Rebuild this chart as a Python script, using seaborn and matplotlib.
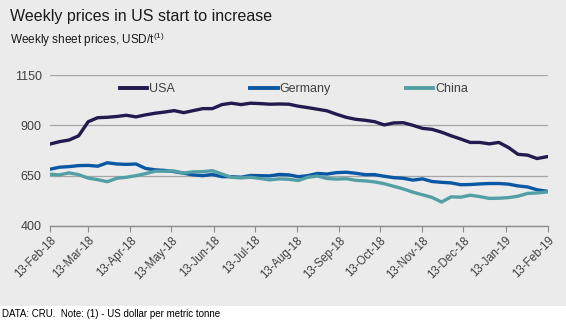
import matplotlib
matplotlib.use("Agg")
import matplotlib.pyplot as plt
import matplotlib.dates as mdates
from matplotlib.patches import Rectangle
import seaborn as sns
import pandas as pd
import numpy as np

# ---- data (weekly, 13-Feb-18 .. 12-Feb-19) ----
usa = [807, 819, 827, 848, 918, 938, 940, 944, 950, 942, 952, 960, 966, 973, 963,
       973, 983, 983, 1003, 1010, 1003, 1010, 1008, 1005, 1006, 1005, 995, 988, 980,
       972, 955, 940, 930, 925, 918, 902, 912, 913, 900, 885, 880, 866, 848, 832,
       815, 815, 808, 815, 790, 756, 752, 735, 744]
germany = [682, 692, 695, 700, 701, 697, 714, 708, 706, 708, 686, 679, 676, 670, 662,
           654, 650, 656, 645, 645, 642, 651, 650, 649, 656, 654, 645, 650, 661, 658,
           665, 667, 662, 655, 655, 647, 640, 637, 628, 634, 621, 617, 614, 605, 606,
           609, 611, 611, 608, 599, 594, 580, 573]
china = [657, 654, 664, 655, 638, 630, 620, 637, 642, 650, 660, 672, 672, 673, 663,
         669, 670, 675, 658, 642, 639, 642, 636, 629, 634, 632, 626, 642, 648, 636,
         633, 635, 627, 624, 619, 610, 597, 584, 568, 555, 542, 519, 545, 543, 553,
         546, 537, 538, 541, 548, 562, 564, 569]
series_names = ["USA", "Germany", "China"]
colors = ["#211b4f", "#0a57a3", "#52a0a6"]
yticks = [400, 650, 900, 1150]

dates = pd.date_range("2018-02-13", periods=len(usa), freq="7D")
df = pd.DataFrame({
    "date": np.tile(dates, 3),
    "price": usa + germany + china,
    "series": np.repeat(series_names, len(usa)),
})

plt.rcParams["font.family"] = ["Liberation Sans", "DejaVu Sans"]
plt.rcParams["mathtext.fontset"] = "custom"
plt.rcParams["mathtext.rm"] = "Liberation Sans"

W, H = 566, 324
fig = plt.figure(figsize=(W / 100, H / 100), dpi=100, facecolor="white")
bg = "#ebebeb"
fig.patches.append(Rectangle((0, (H - 306) / H), 1, 306 / H, transform=fig.transFigure,
                             facecolor=bg, edgecolor="none", zorder=-10))

ax = fig.add_axes([50 / W, (H - 226) / H, 498 / W, 151 / H])
ax.set_facecolor(bg)

sns.lineplot(data=df, x="date", y="price", hue="series", hue_order=series_names,
             palette=colors, linewidth=2.4, ax=ax, legend=True)

ax.set_ylim(400, 1150)
ax.set_yticks(yticks)
ax.set_xlim(pd.Timestamp("2018-02-13"), pd.Timestamp("2019-02-13"))
ticks = pd.date_range("2018-02-01", "2019-02-13", freq="MS") + pd.Timedelta(days=12)
ax.set_xticks(ticks)
ax.xaxis.set_major_formatter(mdates.DateFormatter("%d-%b-%y"))
ax.set_xlabel("")
ax.set_ylabel("")

for s in ["top", "right", "left"]:
    ax.spines[s].set_visible(False)
ax.spines["bottom"].set_color("#8c8c8c")
ax.spines["bottom"].set_linewidth(1.0)
ax.grid(axis="y", color="#a6a6a6", linewidth=0.9)
ax.grid(axis="x", visible=False)
ax.set_axisbelow(True)
ax.tick_params(axis="y", length=0, labelsize=9, labelcolor="#404040", pad=6)
ax.tick_params(axis="x", length=4, color="#8c8c8c", labelsize=8.3, labelcolor="#404040", pad=2)
for lab in ax.get_xticklabels():
    lab.set_rotation(45)
    lab.set_ha("right")
    lab.set_rotation_mode("anchor")

leg = ax.legend(loc="center", bbox_to_anchor=(0.49, 0.907), ncol=3, frameon=False,
                fontsize=9, handlelength=2.2, handletextpad=0.15, columnspacing=6.0,
                labelcolor="#404040")
for h in leg.get_lines():
    h.set_linewidth(2.8)

fig.text(10 / W, 1 - 17 / H, "Weekly prices in US start to increase", fontsize=11.5,
         color="#1a1a1a", va="center", ha="left")
fig.text(10 / W, 1 - 40 / H, r"Weekly sheet prices, USD/t$^{\mathrm{(1)}}$", fontsize=8.5,
         color="#1a1a1a", va="center", ha="left")
fig.text(2 / W, 1 - 314 / H, "DATA: CRU.  Note: (1) - US dollar per metric tonne",
         fontsize=7, color="black", va="center", ha="left")

fig.savefig("out.png", dpi=100, facecolor="white")
